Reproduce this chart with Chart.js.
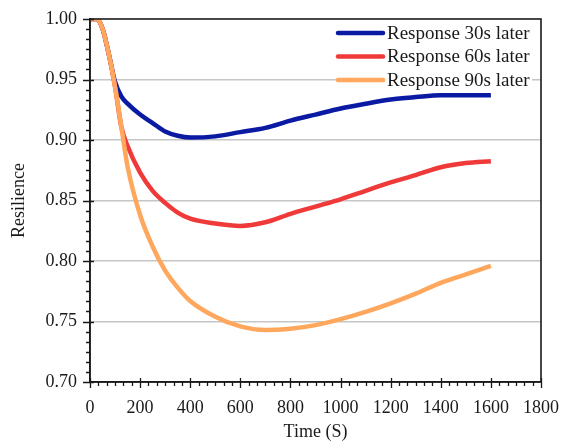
<!DOCTYPE html>
<html>
<head>
<meta charset="utf-8">
<script src="https://cdn.jsdelivr.net/npm/chart.js@4.4.0/dist/chart.umd.min.js"></script>
<style>
  html, body { margin: 0; padding: 0; background: #fff; }
  #wrap { width: 561px; height: 443px; }
</style>
</head>
<body>
<div id="wrap"><canvas id="chart"></canvas></div>
<script>
// time axis (s) shared by all three curves
const timeS = [0, 25, 50, 75, 100, 125, 150, 200, 250, 300, 350, 400, 500, 600,
               700, 800, 900, 1000, 1100, 1200, 1300, 1400, 1500, 1600];

const resp30 = [1.000, 1.000, 0.992, 0.971, 0.948, 0.936, 0.930, 0.921, 0.914, 0.907, 0.9035, 0.902,
                0.903, 0.9065, 0.910, 0.916, 0.921, 0.926, 0.930, 0.9335, 0.9355, 0.937, 0.937, 0.937];
const resp60 = [1.000, 1.000, 0.992, 0.971, 0.944, 0.911, 0.895, 0.873, 0.858, 0.848, 0.840, 0.835,
                0.831, 0.829, 0.832, 0.839, 0.845, 0.851, 0.858, 0.865, 0.871, 0.8775, 0.881, 0.8825];
const resp90 = [1.000, 1.000, 0.992, 0.971, 0.944, 0.911, 0.878, 0.838, 0.812, 0.792, 0.778, 0.767,
                0.754, 0.746, 0.743, 0.744, 0.747, 0.752, 0.758, 0.765, 0.773, 0.782, 0.789, 0.796];

const seriesNames = ['Response 30s later', 'Response 60s later', 'Response 90s later'];
const seriesColors = ['#0a1aa3', '#f03a3a', '#ffa75c'];

const SERIF = "'Liberation Serif', 'Times New Roman', serif";
const INK = '#1a1a1a';

function toPoints(vals) {
  return vals.map((v, i) => ({ x: timeS[i], y: v }));
}

// frame, minor/major ticks and the legend box inside the plot
const axisDecor = {
  id: 'axisDecor',
  afterDraw(chart) {
    const ctx = chart.ctx;
    const a = chart.chartArea;
    const xs = chart.scales.x, ys = chart.scales.y;
    ctx.save();
    ctx.strokeStyle = INK;
    ctx.lineWidth = 1.6;
    ctx.beginPath();
    ctx.rect(a.left, a.top, a.right - a.left, a.bottom - a.top);
    ctx.stroke();

    ctx.lineWidth = 1.3;
    ctx.beginPath();
    // x ticks: majors every 200, six subdivisions
    for (let k = 0; k <= 54; k++) {
      const px = Math.round(xs.getPixelForValue(k * 200 / 6)) + 0.5;
      if (k % 6 === 0) {
        ctx.moveTo(px, a.bottom - 4); ctx.lineTo(px, a.bottom + 6);
      } else {
        ctx.moveTo(px, a.bottom); ctx.lineTo(px, a.bottom + 4);
      }
    }
    // y ticks: majors every 0.05, six subdivisions
    for (let k = 0; k <= 36; k++) {
      const py = Math.round(ys.getPixelForValue(0.7 + k * 0.05 / 6)) + 0.5;
      if (k % 6 === 0) {
        ctx.moveTo(a.left - 7, py); ctx.lineTo(a.left + 4, py);
      } else {
        ctx.moveTo(a.left - 4, py); ctx.lineTo(a.left, py);
      }
    }
    ctx.stroke();

    // legend
    const lx = a.left + 248, ly = a.top + 14, rowH = 23.5;
    ctx.fillStyle = '#fff';
    ctx.fillRect(lx - 2, ly - 11, 196, rowH * 3 - 1);
    ctx.font = '19px ' + SERIF;
    ctx.textBaseline = 'middle';
    ctx.textAlign = 'left';
    ctx.lineCap = 'round';
    seriesNames.forEach((name, i) => {
      const yy = ly + i * rowH;
      ctx.strokeStyle = seriesColors[i];
      ctx.lineWidth = 4.5;
      ctx.beginPath();
      ctx.moveTo(lx, yy); ctx.lineTo(lx + 45, yy);
      ctx.stroke();
      ctx.fillStyle = INK;
      ctx.fillText(name, lx + 49, yy + 1);
    });
    ctx.restore();
  }
};

const series = [resp30, resp60, resp90];

new Chart(document.getElementById('chart'), {
  type: 'line',
  data: {
    datasets: series.map((vals, i) => ({
      label: seriesNames[i],
      data: toPoints(vals),
      borderColor: seriesColors[i],
      backgroundColor: seriesColors[i],
      borderWidth: 4.5,
      pointRadius: 0,
      cubicInterpolationMode: 'monotone',
      order: 3 - i   // later series sit on top where the curves overlap
    }))
  },
  options: {
    responsive: true,
    maintainAspectRatio: false,
    animation: false,
    layout: { padding: { top: 19, right: 20, left: 0, bottom: 0 } },
    plugins: {
      legend: { display: false },
      tooltip: { enabled: false }
    },
    scales: {
      x: {
        type: 'linear',
        min: 0, max: 1800,
        border: { display: true, color: INK, width: 1.6 },
        grid: { display: false },
        ticks: {
          stepSize: 200,
          maxRotation: 0,
          padding: 7,
          color: INK,
          font: { family: SERIF, size: 18 },
          callback: v => String(v)
        },
        title: {
          display: true,
          text: 'Time (S)',
          color: INK,
          padding: { top: 0, bottom: 0 },
          font: { family: SERIF, size: 18 }
        },
        afterFit(scale) {
          scale.height = 61;
          scale.paddingLeft = 0;
          scale.paddingRight = 0;
        }
      },
      y: {
        min: 0.7, max: 1.0,
        border: { display: true, color: INK, width: 1.6 },
        grid: { color: '#c6c6c6', lineWidth: 1.5, drawTicks: false },
        ticks: {
          stepSize: 0.05,
          padding: 13,
          color: INK,
          font: { family: SERIF, size: 18 },
          callback: v => v.toFixed(2)
        },
        title: {
          display: true,
          text: 'Resilience',
          color: INK,
          padding: { top: 8, bottom: 0 },
          font: { family: SERIF, size: 18 }
        },
        afterFit(scale) {
          scale.width = 90;
          scale.paddingTop = 0;
          scale.paddingBottom = 0;
        }
      }
    }
  },
  plugins: [axisDecor]
});
</script>
</body>
</html>
